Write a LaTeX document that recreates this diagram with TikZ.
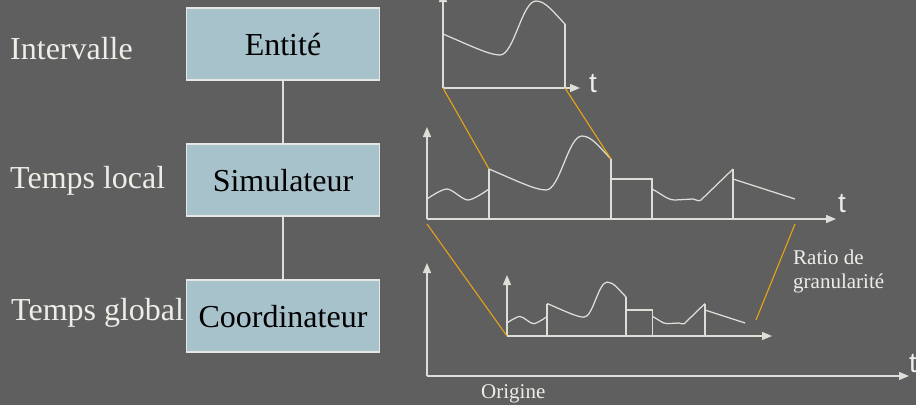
\documentclass[tikz,border=0pt]{standalone}
\usepackage{fontspec}
\setmainfont{Liberation Serif}
\newfontfamily\tfont{Liberation Sans}
\usetikzlibrary{arrows.meta}
\definecolor{bg}{RGB}{95,95,95}
\definecolor{ln}{RGB}{222,222,216}
\definecolor{lbl}{RGB}{238,238,232}
\definecolor{boxfill}{RGB}{168,194,204}
\definecolor{boxline}{RGB}{230,230,226}
\definecolor{orng}{RGB}{232,164,20}
\newcommand\sigsegB{(489,169) .. controls (515,180) and (535,190) .. (546,190) .. controls (560,190) and (568,136) .. (582,136) .. controls (592,136) and (600,148) .. (611,159)}
\newcommand\sigcurves{%
  \draw[curve] plot[smooth] coordinates {(427,199) (447,189) (468,200) (489,189)};
  \draw[curve] \sigsegB;
  \draw[curve] (489,219) -- (489,169);
  \draw[curve] (611,219) -- (611,159);
  \draw[curve] (611,179) -- (652,179) -- (652,219);
  \draw[curve] (652,189) .. controls (662,194) and (667,200) .. (675,200) -- (693,199) .. controls (696,199) and (698,202) .. (701,200) -- (733,169);
  \draw[curve] (733,219) -- (733,169);
  \draw[curve] (733,179) -- (795,199);
}
\begin{document}
\begin{tikzpicture}[x=1pt,y=-1pt,
  axis/.style={draw=ln,line width=1.4pt,-{Triangle[length=10pt,width=8pt]}},
  curve/.style={draw=ln,line width=1.25pt},
  orline/.style={draw=orng,line width=1.1pt},
  level/.style={font=\fontsize{32}{36}\selectfont,text=lbl,anchor=base west,inner sep=0pt},
  blk/.style={draw=boxline,line width=1.2pt,fill=boxfill,minimum width=193pt,minimum height=72pt,inner sep=0pt,text height=22.5pt,text depth=0pt,font=\fontsize{32}{36}\selectfont,text=black},
  tlab/.style={font=\tfont\fontsize{28}{30}\selectfont,text=lbl,anchor=base west,inner sep=0pt},
  small/.style={font=\fontsize{21}{24}\selectfont,text=lbl,anchor=base west,inner sep=0pt,align=left}]
\fill[bg] (0,0) rectangle (916,405);
\clip (0,0) rectangle (916,405);
% boxes
\node[blk] (ent) at (283,44) {Entité};
\node[blk] (sim) at (283,180) {Simulateur};
\node[blk] (coo) at (283,316) {Coordinateur};
\draw[ln,line width=1.2pt] (ent) -- (sim);
\draw[ln,line width=1.2pt] (sim) -- (coo);
% level labels
\node[level] (l1) at (10,59) {Intervalle};
\node[level] (l2) at (10,188) {Temps local};
\node[level] (l3) at (11,320) {Temps global};
% plot 1
\draw[axis] (443,88) -- (443,-8);
\draw[axis] (443,88) -- (580,88);
\node[tlab] (t1) at (589,92) {t};
\begin{scope}[shift={(-46,-135)}]
  \draw[curve] \sigsegB;
\end{scope}
\draw[curve] (565,88) -- (565,24);
% plot 2
\draw[axis] (427,219) -- (427,127);
\draw[axis] (427,219) -- (836,219);
\node[tlab] (t2) at (838,212) {t};
\sigcurves
% plot 3
\draw[axis] (427,376) -- (427,263);
\draw[axis] (427,376) -- (909,376);
\node[tlab] (t3) at (909,372) {t};
\draw[axis] (507,336) -- (507,275);
\draw[axis] (507,336) -- (772,336);
\begin{scope}[shift={(507,336)},xscale=0.647,yscale=0.65,shift={(-427,-219)}]
  \sigcurves
\end{scope}
\node[small] (orig) at (481,398) {Origine};
\node[small] (ratio) at (793,288) {Ratio de\\[-0.5pt]granularité};
% orange connectors
\coordinate (o1a) at (443,88); \coordinate (o1b) at (489,169);
\coordinate (o2a) at (565,88); \coordinate (o2b) at (611,159);
\coordinate (o3a) at (427,224); \coordinate (o3b) at (507,336);
\coordinate (o4a) at (795,224); \coordinate (o4b) at (756,320);
\draw[orline] (o1a) -- (o1b);
\draw[orline] (o2a) -- (o2b);
\draw[orline] (o3a) -- (o3b);
\draw[orline] (o4a) -- (o4b);
\end{tikzpicture}
\end{document}
